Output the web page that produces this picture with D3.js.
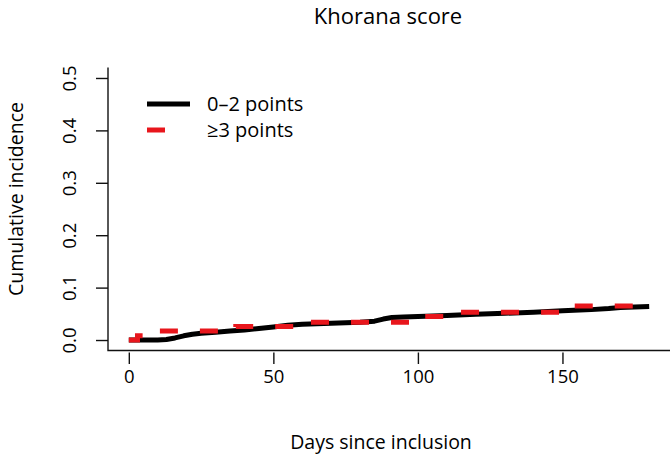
<!DOCTYPE html>
<html>
<head>
<meta charset="utf-8">
<script src="https://cdn.jsdelivr.net/npm/d3@7"></script>
<style>
  body { margin: 0; background: #fff; }
  text { font-family: "Open Sans", "Noto Sans", sans-serif; fill: #000; }
</style>
</head>
<body>
<div id="chart"></div>
<script>
var chart_width  = 670;
var chart_height = 457;

// data
var low_days  = [0, 5, 10, 13, 16, 19, 22, 25, 30, 35, 40, 45, 50, 55, 60, 65, 70, 75, 80, 85, 88, 91, 95, 100, 110, 120, 130, 140, 150, 160, 166, 170, 175, 180];
var low_inc   = [0, 0, 0, 0.001, 0.004, 0.008, 0.011, 0.013, 0.015, 0.017, 0.019, 0.022, 0.025, 0.028, 0.030, 0.031, 0.032, 0.033, 0.034, 0.036, 0.040, 0.043, 0.044, 0.045, 0.047, 0.049, 0.051, 0.053, 0.056, 0.058, 0.060, 0.062, 0.063, 0.064];
var high_days = [0, 3, 8, 37, 59, 102, 114, 152, 176];
var high_inc  = [0, 0.008, 0.017, 0.026, 0.034, 0.045, 0.053, 0.065, 0.065];
var x_ticks   = [0, 50, 100, 150];
var y_ticks   = [0, 0.1, 0.2, 0.3, 0.4, 0.5];
var legend_labels = ['0\u20132 points', '\u22653 points'];

var red = '#e8161c';

var svg = d3.select('#chart')
  .append('svg')
  .attr('width', chart_width)
  .attr('height', chart_height);

var x = d3.scaleLinear().domain([-7.2, 187.2]).range([108, 670]);
var y = d3.scaleLinear().domain([-0.02, 0.52]).range([350.5, 67.5]);

// L-shaped box
svg.append('path')
  .attr('d', 'M108,' + y.range()[1] + 'V350.5H670')
  .attr('fill', 'none')
  .attr('stroke', '#111')
  .attr('stroke-width', 1.4);

// x axis
var xaxis = svg.append('g')
  .attr('transform', 'translate(0,352.5)')
  .call(d3.axisBottom(x).tickValues(x_ticks).tickFormat(d3.format('d')).tickSize(11.5).tickPadding(6));
xaxis.select('.domain').remove();
xaxis.selectAll('line').attr('stroke', '#111').attr('stroke-width', 1.4);
xaxis.selectAll('text').attr('font-size', 18.5).attr('font-family', null).attr('fill', null);

// y axis
var yaxis = svg.append('g')
  .attr('transform', 'translate(108,0)')
  .call(d3.axisLeft(y).tickValues(y_ticks).tickFormat(d3.format('.1f')).tickSize(12).tickPadding(0));
yaxis.select('.domain').remove();
yaxis.selectAll('line').attr('stroke', '#111').attr('stroke-width', 1.4);
yaxis.selectAll('text')
  .attr('font-size', 18.5)
  .attr('font-family', null)
  .attr('fill', null)
  .attr('x', null)
  .attr('y', 0)
  .attr('dy', '0.35em')
  .attr('text-anchor', 'middle')
  .attr('transform', 'translate(-38,0) rotate(-90)');

// lines
var line = d3.line()
  .x(function(d) { return x(d[0]); })
  .y(function(d) { return y(d[1]); });

var low  = low_days.map(function(d, i) { return [d, low_inc[i]]; });
var high = high_days.map(function(d, i) { return [d, high_inc[i]]; });

svg.append('path')
  .datum(low)
  .attr('d', line.curve(d3.curveLinear))
  .attr('fill', 'none')
  .attr('stroke', '#000')
  .attr('stroke-width', 5)
  .attr('stroke-linejoin', 'round');

svg.append('path')
  .datum(high)
  .attr('d', line.curve(d3.curveStepAfter))
  .attr('fill', 'none')
  .attr('stroke', red)
  .attr('stroke-width', 5)
  .attr('stroke-dasharray', '18,22');

// legend
var legend = svg.append('g');
legend.append('line')
  .attr('x1', 147).attr('x2', 190).attr('y1', 104).attr('y2', 104)
  .attr('stroke', '#000').attr('stroke-width', 5);
legend.append('line')
  .attr('x1', 147).attr('x2', 165).attr('y1', 130).attr('y2', 130)
  .attr('stroke', red).attr('stroke-width', 5);
legend.selectAll('text.lab')
  .data(legend_labels)
  .enter()
  .append('text')
  .attr('class', 'lab')
  .attr('x', 207)
  .attr('y', function(d, i) { return 104 + i * 26; })
  .attr('dy', '0.35em')
  .attr('font-size', 20)
  .text(function(d) { return d; });

// titles
svg.append('text')
  .text('Khorana score')
  .attr('x', 388).attr('y', 24)
  .attr('text-anchor', 'middle')
  .attr('font-size', 22);

svg.append('text')
  .text('Days since inclusion')
  .attr('x', 381).attr('y', 449)
  .attr('text-anchor', 'middle')
  .attr('font-size', 19.5);

svg.append('text')
  .text('Cumulative incidence')
  .attr('transform', 'translate(23,199) rotate(-90)')
  .attr('text-anchor', 'middle')
  .attr('font-size', 19.5);
</script>
</body>
</html>
